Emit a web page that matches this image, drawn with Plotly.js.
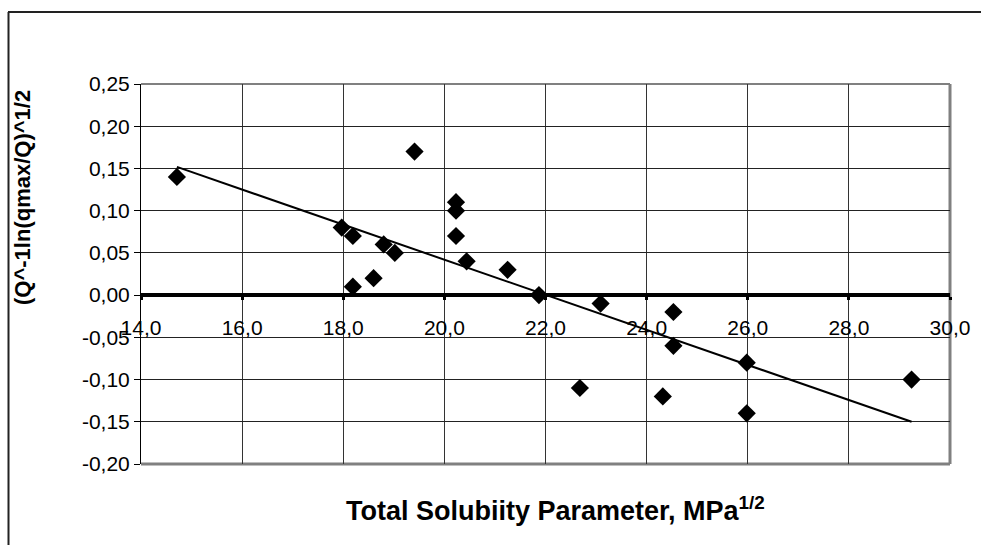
<!DOCTYPE html>
<html>
<head>
<meta charset="utf-8">
<script src="https://cdn.plot.ly/plotly-3.0.1.min.js"></script>
<style>
  html, body { margin: 0; padding: 0; background: #fff; }
  #chart { width: 981px; height: 545px; }
</style>
</head>
<body>
<div id="chart"></div>
<script>
// Total solubility parameter (MPa^1/2) for each solvent
const solubility = [14.71, 19.41, 20.23, 20.23, 20.23, 20.44, 21.25, 21.87, 17.97, 18.19, 18.80,
                    19.02, 18.19, 18.60, 23.09, 24.53, 24.53, 25.98, 29.24, 22.68, 24.32, 25.98];
// (Q^-1 ln(qmax/Q))^1/2 for the same solvents
const response = [0.14, 0.17, 0.11, 0.10, 0.07, 0.04, 0.03, 0.00, 0.08, 0.07, 0.06,
                  0.05, 0.01, 0.02, -0.01, -0.02, -0.06, -0.08, -0.10, -0.11, -0.12, -0.14];

const xTicks = [14, 16, 18, 20, 22, 24, 26, 28, 30];
const yTicks = [-0.20, -0.15, -0.10, -0.05, 0.00, 0.05, 0.10, 0.15, 0.20, 0.25];

// decimal comma and a plain hyphen for negatives
const fmt = (v, d) => v.toFixed(d).replace('.', ',');

// least-squares linear trend over the data
function linearFit(xs, ys) {
  const n = xs.length;
  const mx = xs.reduce((a, b) => a + b, 0) / n;
  const my = ys.reduce((a, b) => a + b, 0) / n;
  let sxy = 0, sxx = 0;
  for (let i = 0; i < n; i++) {
    sxy += (xs[i] - mx) * (ys[i] - my);
    sxx += (xs[i] - mx) * (xs[i] - mx);
  }
  const slope = sxy / sxx;
  return { slope, intercept: my - slope * mx };
}
const fit = linearFit(solubility, response);
const xMin = Math.min(...solubility), xMax = Math.max(...solubility);
const trendX = [xMin, xMax];
const trendY = trendX.map(x => fit.intercept + fit.slope * x);

// plot area geometry in pixels
const W = 981, H = 545;
const L = 141, R = 950, T = 84, B = 464;
const px = x => (x - L) / (R - L);
const py = y => (B - y) / (B - T);

const yRange = [-0.20, 0.25];
const zeroPos = (0 - yRange[0]) / (yRange[1] - yRange[0]);

const font = "Arial, 'Liberation Sans', sans-serif";

const traces = [
  {
    x: trendX, y: trendY, type: 'scatter', mode: 'lines',
    line: { color: '#000', width: 2 }, hoverinfo: 'skip', showlegend: false
  },
  {
    x: solubility, y: response, type: 'scatter', mode: 'markers',
    marker: { symbol: 'diamond', size: 14, color: '#000' }, showlegend: false
  }
];

const layout = {
  width: W, height: H,
  margin: { l: L, r: W - R, t: T, b: H - B, pad: 0 },
  paper_bgcolor: '#fff', plot_bgcolor: '#fff',
  font: { family: font, size: 21, color: '#000' },
  showlegend: false,
  xaxis: {
    range: [14, 30], tickvals: xTicks, ticktext: xTicks.map(v => fmt(v, 1)),
    showgrid: true, gridcolor: '#333', gridwidth: 1,
    zeroline: false,
    anchor: 'free', position: zeroPos,
    showline: true, linecolor: '#000', linewidth: 4,
    ticks: 'outside', ticklen: 3, tickwidth: 3, tickcolor: '#000',
    ticklabelstandoff: 10,
    tickfont: { family: font, size: 21, color: '#000' },
    layer: 'below traces'
  },
  yaxis: {
    range: yRange, tickvals: yTicks, ticktext: yTicks.map(v => fmt(v, 2)),
    showgrid: true, gridcolor: '#222', gridwidth: 1,
    zeroline: false,
    showline: true, linecolor: '#000', linewidth: 1,
    ticks: 'outside', ticklen: 6, tickwidth: 1, tickcolor: '#000',
    tickfont: { family: font, size: 21, color: '#000' },
    layer: 'below traces'
  },
  shapes: [
    // plot area border
    { type: 'line', xref: 'paper', yref: 'paper', x0: 0, x1: 1, y0: 1, y1: 1,
      line: { color: '#808080', width: 2 }, layer: 'below' },
    { type: 'line', xref: 'paper', yref: 'paper', x0: 1, x1: 1, y0: 0, y1: 1,
      line: { color: '#808080', width: 3 }, layer: 'below' },
    { type: 'line', xref: 'paper', yref: 'paper', x0: 0, x1: 1, y0: 0, y1: 0,
      line: { color: '#808080', width: 3 }, layer: 'below' },
    // chart frame
    { type: 'line', xref: 'paper', yref: 'paper', x0: px(8), x1: px(981), y0: py(12), y1: py(12),
      line: { color: '#222', width: 2 } },
    { type: 'line', xref: 'paper', yref: 'paper', x0: px(8.5), x1: px(8.5), y0: py(12), y1: py(545),
      line: { color: '#222', width: 2 } }
  ],
  annotations: [
    {
      text: '<b>Total Solubiity Parameter, MPa<sup>1/2</sup></b>',
      xref: 'paper', yref: 'paper', x: px(555), y: py(509),
      xanchor: 'center', yanchor: 'middle', showarrow: false,
      font: { family: font, size: 27, color: '#000' }
    },
    {
      text: '<b>(Q^-1ln(qmax/Q)^1/2</b>',
      xref: 'paper', yref: 'paper', x: px(22), y: py(198),
      xanchor: 'center', yanchor: 'middle', showarrow: false, textangle: -90,
      font: { family: font, size: 22, color: '#000' }
    }
  ]
};

Plotly.newPlot('chart', traces, layout, { displayModeBar: false, staticPlot: true });
</script>
</body>
</html>
